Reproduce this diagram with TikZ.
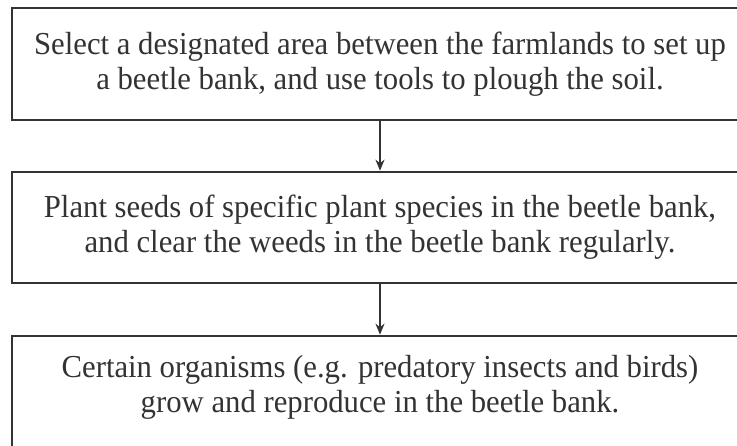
\documentclass[tikz,border=0pt]{standalone}
\usepackage{fontspec}
\setmainfont{Liberation Serif}[FakeStretch=0.96]
\usetikzlibrary{arrows.meta}
\definecolor{ink}{HTML}{333333}
\begin{document}
\begin{tikzpicture}[x=1pt,y=1pt,
  txt/.style={align=center, font=\fontsize{32}{35}\selectfont, text=ink},
  stepbox/.style={txt, draw=ink, line width=2.6pt, minimum width=736pt, inner sep=0pt},
  flow/.style={draw=ink, line width=1.4pt, -{Stealth[length=11pt,width=9pt,inset=3.5pt]}}]
\clip (0,0) rectangle (737,445);
\fill[white] (0,0) rectangle (737,445);
\node[stepbox, minimum height=112pt] (b1) at (380,381)
  {Select a designated area between the farmlands to set up\\a beetle bank, and use tools to plough the soil.};
\node[stepbox, minimum height=111pt] (b2) at (380,217.5)
  {Plant seeds of specific plant species in the beetle bank,\\and clear the weeds in the beetle bank regularly.};
\node[stepbox, minimum height=119pt] (b3) at (380,49.5) {};
\node[txt] (t3) at (380,58)
  {Certain organisms (e.g. predatory insects and birds)\\grow and reproduce in the beetle bank.};
\draw[flow] (b1.south) -- (b2.north);
\draw[flow] (b2.south) -- (b3.north);
\end{tikzpicture}
\end{document}
